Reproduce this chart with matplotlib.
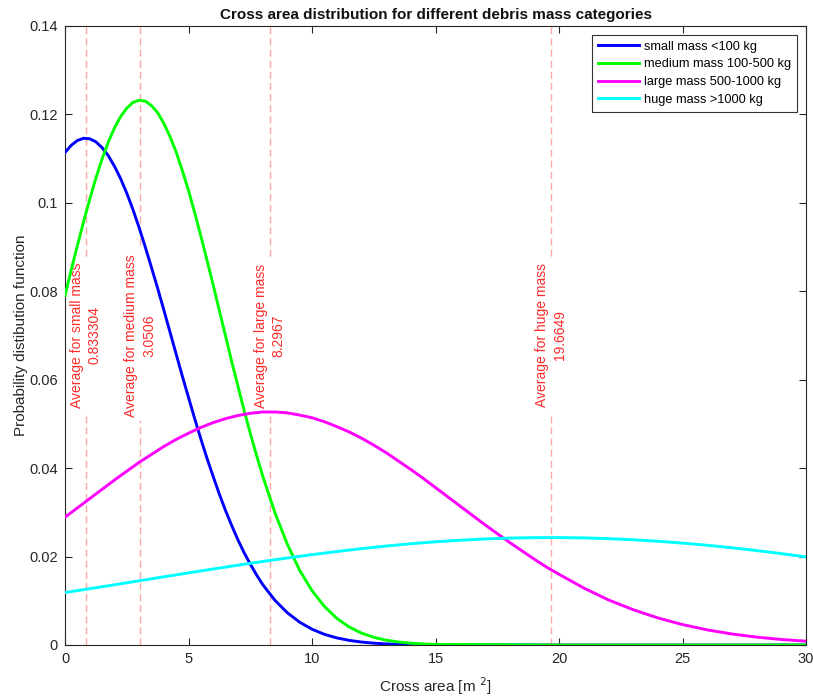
"""
Cross area PDFs for the four debris mass categories
"""
import matplotlib
matplotlib.use("Agg")
import matplotlib.pyplot as plt

plt.rcParams['font.family'] = ['Liberation Sans', 'DejaVu Sans']

# Cross area samples [m^2]: quarter steps near the narrow peaks, coarser in the tails
area_narrow = [0, 0.25, 0.5, 0.75, 1, 1.25, 1.5, 1.75, 2, 2.25, 2.5, 2.75,
               3, 3.25, 3.5, 3.75, 4, 4.25, 4.5, 4.75, 5, 5.25, 5.5, 5.75,
               6, 6.25, 6.5, 6.75, 7, 7.25, 7.5, 7.75, 8, 8.5, 9, 9.5, 10,
               10.5, 11, 11.5, 12, 12.5, 13, 13.5, 14, 14.5, 15, 20, 25, 30]
area_large = [0, 0.5, 1, 1.5, 2, 2.5, 3, 3.5, 4, 4.5, 5, 5.5, 6, 6.5, 7,
              7.5, 8, 8.5, 9, 9.5, 10, 10.5, 11, 11.5, 12, 12.5, 13, 13.5,
              14, 14.5, 15, 15.5, 16, 16.5, 17, 17.5, 18, 18.5, 19, 19.5, 20,
              21, 22, 23, 24, 25, 26, 27, 28, 29, 30]
area_huge = [0, 1, 2, 3, 4, 5, 6, 7, 8, 9, 10, 11, 12, 13, 14, 15, 16, 17,
             18, 19, 20, 21, 22, 23, 24, 25, 26, 27, 28, 29, 30]

pdf_small = [0.1114, 0.1130, 0.1141, 0.1146, 0.1145, 0.1138, 0.1125, 0.1107,
             0.1083, 0.1055, 0.1022, 0.0985, 0.0944, 0.0900, 0.0854, 0.0807,
             0.0758, 0.0708, 0.0658, 0.0608, 0.0560, 0.0512, 0.0466, 0.0422,
             0.0381, 0.0341, 0.0304, 0.0270, 0.0238, 0.0209, 0.0183, 0.0159,
             0.0137, 0.0101, 0.0073, 0.00516, 0.00357, 0.00242, 0.00161,
             0.00105, 0.00067, 0.00041, 0.00025, 0.00015, 0.00009, 0.00005,
             0.00003, 0.0, 0.0, 0.0]
pdf_medium = [0.0790, 0.0848, 0.0903, 0.0957, 0.1008, 0.1056, 0.1099, 0.1137,
              0.1169, 0.1195, 0.1214, 0.1227, 0.1232, 0.1230, 0.1220, 0.1204,
              0.1180, 0.1150, 0.1115, 0.1073, 0.1028, 0.0978, 0.0925, 0.0870,
              0.0814, 0.0756, 0.0699, 0.0641, 0.0586, 0.0531, 0.0479, 0.0430,
              0.0383, 0.0299, 0.0228, 0.0169, 0.0123, 0.00873, 0.00605,
              0.00409, 0.00270, 0.00174, 0.00110, 0.00068, 0.00041, 0.00024,
              0.00014, 0.0, 0.0, 0.0]
pdf_large = [0.0289, 0.0310, 0.0331, 0.0352, 0.0373, 0.0393, 0.0413, 0.0431,
             0.0449, 0.0465, 0.0479, 0.0492, 0.0503, 0.0512, 0.0519, 0.0524,
             0.0527, 0.0527, 0.0525, 0.0520, 0.0514, 0.0505, 0.0494, 0.0482,
             0.0468, 0.0452, 0.0435, 0.0416, 0.0397, 0.0377, 0.0356, 0.0335,
             0.0314, 0.0293, 0.0272, 0.0252, 0.0232, 0.0213, 0.0194, 0.0176,
             0.0160, 0.0129, 0.0102, 0.00799, 0.00613, 0.00462, 0.00342,
             0.00249, 0.00178, 0.00125, 0.00086]
pdf_huge = [0.01186, 0.01274, 0.01362, 0.01452, 0.01542, 0.01631, 0.01719,
            0.01805, 0.01888, 0.01968, 0.02043, 0.02114, 0.02179, 0.02238,
            0.02290, 0.02334, 0.02370, 0.02398, 0.02418, 0.02428, 0.02430,
            0.02422, 0.02406, 0.02380, 0.02347, 0.02305, 0.02256, 0.02199,
            0.02136, 0.02067, 0.01993]

labels = ['small mass <100 kg', 'medium mass 100-500 kg',
          'large mass 500-1000 kg', 'huge mass >1000 kg']
colors = ['#0000ff', '#00ff00', '#ff00ff', '#00ffff']

# average cross area per category
avg_names = ['small', 'medium', 'large', 'huge']
avg_values = [0.833304, 3.0506, 8.2967, 19.6649]
avg_text = ['0.833304', '3.0506', '8.2967', '19.6649']

yticks = [0, 0.02, 0.04, 0.06, 0.08, 0.1, 0.12, 0.14]
ytick_labels = ['0', '0.02', '0.04', '0.06', '0.08', '0.1', '0.12', '0.14']
xticks = [0, 5, 10, 15, 20, 25, 30]

AX_COLOR = '#262626'

fig = plt.figure(figsize=(8.13, 6.98), dpi=100)
ax = fig.add_axes([65 / 813, 53 / 698, 741 / 813, 619 / 698])

series = [(area_narrow, pdf_small), (area_narrow, pdf_medium),
          (area_large, pdf_large), (area_huge, pdf_huge)]
for (x, y), c, lab in zip(series, colors, labels):
    ax.plot(x, y, color=c, lw=2.1, label=lab, zorder=3)

for name, val, txt in zip(avg_names, avg_values, avg_text):
    ax.axvline(val, color='#ffa6a6', ls=(0, (5, 3)), lw=1.0, zorder=2)
    ax.text(val, 0.07, f'Average for {name} mass\n{txt}', rotation=90,
            ha='center', va='center', multialignment='center',
            color='#ff2a2a', fontsize=10, linespacing=1.35, zorder=2.5,
            bbox=dict(facecolor='white', edgecolor='none', pad=3))

ax.set_xlim(0, 30)
ax.set_ylim(0, 0.14)
ax.set_xticks(xticks)
ax.set_yticks(yticks)
ax.set_yticklabels(ytick_labels)
ax.tick_params(direction='in', top=True, right=True, length=5, width=0.8,
               colors=AX_COLOR, labelsize=10.5, pad=5)
for sp in ax.spines.values():
    sp.set_color(AX_COLOR)
    sp.set_linewidth(0.8)

ax.set_xlabel('Cross area [m $^{2}$]', fontsize=11, color=AX_COLOR, labelpad=7)
ax.set_ylabel('Probability distibution function', fontsize=11,
              color=AX_COLOR, labelpad=1)
ax.set_title('Cross area distribution for different debris mass categories',
             fontsize=11, fontweight='bold', color='#111111', pad=5)

leg = ax.legend(loc='upper right', fontsize=9.2, frameon=True, fancybox=False,
                edgecolor='#333333', framealpha=1, handlelength=3.2,
                handletextpad=0.4, labelspacing=0.45, borderpad=0.45,
                borderaxespad=0.7)
leg.get_frame().set_linewidth(0.8)

fig.savefig('out.png', dpi=100)
plt.close(fig)
